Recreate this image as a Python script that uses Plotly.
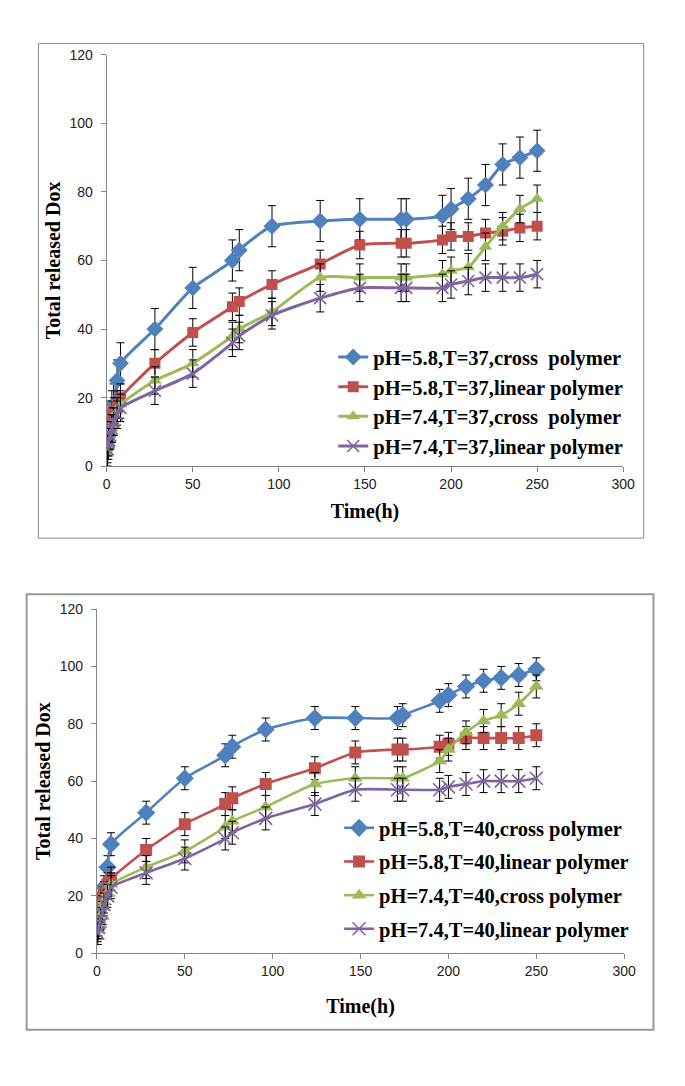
import plotly.graph_objects as go

# ---------------- data ----------------
time_h = [0.5, 1, 2, 3, 4, 6, 8, 28, 50, 73, 77, 96, 124, 147, 171, 174, 195, 200, 210, 220, 230, 240, 250]

# T = 37
cross_58_t37 = [6, 9, 13, 16, 18, 25, 30, 40, 52, 60, 63, 70, 71.5, 72, 72, 72, 73, 75, 78, 82, 88, 90, 92]
linear_58_t37 = [6, 9, 12, 15, 16, 18, 20, 30, 39, 46.5, 48, 53, 59, 64.5, 65, 65, 66, 67, 67, 68, 68.5, 69.5, 70]
cross_74_t37 = [4, 6, 9, 11, 13, 16, 18, 25, 30, 38, 40, 45, 55, 55, 55, 55, 56, 57, 58, 64, 70, 75, 78]
linear_74_t37 = [5, 7, 9, 11, 13, 15, 17, 22, 27, 36, 38, 44, 49, 52, 52, 52, 52, 53, 54, 55, 55, 55, 56]
err_t37 = [6, 4, 4, 4]

# T = 40
cross_58_t40 = [9, 12, 16, 20, 23, 30, 38, 49, 61, 69, 72, 78, 82, 82, 82, 83, 88, 90, 93, 95, 96, 97, 99]
linear_58_t40 = [10, 13, 16, 19, 21, 24, 26, 36, 45, 52, 54, 59, 64.5, 70, 71, 71, 72, 73, 75, 75, 75, 75, 76]
cross_74_t40 = [8, 10, 13, 16, 18, 21, 24, 30, 35.5, 44, 46, 51, 59, 61, 61, 61, 67, 71, 77, 81, 83, 87, 93]
linear_74_t40 = [7, 9, 12, 14, 17, 20, 23, 28, 33, 40, 42, 47, 52, 57, 57, 57, 57, 58, 59, 60, 60, 60, 61]
err_t40 = [4, 4, 4, 4]

names_t37 = ["pH=5.8,T=37,cross\u00a0 polymer", "pH=5.8,T=37,linear polymer",
             "pH=7.4,T=37,cross\u00a0 polymer", "pH=7.4,T=37,linear polymer"]
names_t40 = ["pH=5.8,T=40,cross polymer", "pH=5.8,T=40,linear polymer",
             "pH=7.4,T=40,cross polymer", "pH=7.4,T=40,linear polymer"]

x_ticks = [0, 50, 100, 150, 200, 250, 300]
y_ticks = [0, 20, 40, 60, 80, 100, 120]

# ---------------- style ----------------
colors = ["#4F81BD", "#C0504D", "#9BBB59", "#8064A2"]
symbols = ["diamond", "square", "triangle-up", "x-thin"]
sizes_top = [13, 11, 12, 12]
sizes_bot = [14, 12, 13, 13]

OFF = 8  # page body margin
W, H = 685 - OFF, 1086 - OFF
def px_x(p): return (p - OFF) / W
def px_y(p): return 1 - (p - OFF) / H

fig = go.Figure()

def add_series(series, names, errs, xa, ya, legend, msizes, lw):
    for i, (vals, nm) in enumerate(zip(series, names)):
        marker = dict(symbol=symbols[i], size=msizes[i], color=colors[i])
        if symbols[i] == "x-thin":
            marker["line"] = dict(color=colors[i], width=1.6)
        fig.add_trace(go.Scatter(
            x=time_h, y=vals, name=nm, mode="lines+markers",
            xaxis=xa, yaxis=ya, legend=legend, legendgroup=f"{legend}{i}",
            line=dict(color=colors[i], width=lw, shape="spline", smoothing=0.6),
            marker=marker,
            error_y=dict(type="constant", value=errs[i], color="black",
                         thickness=1, width=4),
        ))

add_series([cross_58_t37, linear_58_t37, cross_74_t37, linear_74_t37],
           names_t37, err_t37, "x", "y", "legend", sizes_top, 3)
add_series([cross_58_t40, linear_58_t40, cross_74_t40, linear_74_t40],
           names_t40, err_t40, "x2", "y2", "legend2", sizes_bot, 2.6)

tick_font = dict(family="Liberation Sans", size=14, color="#222222")
title_font = dict(family="Liberation Serif", size=20, color="black", weight="bold")
legend_font = dict(family="Liberation Serif", size=20.5, color="black", weight="bold")

axis_common = dict(showgrid=False, zeroline=False, showline=True, linecolor="#868686",
                   linewidth=1, ticks="outside", ticklen=5, tickcolor="#868686",
                   tickfont=tick_font)

fig.update_layout(
    width=W, height=H, margin=dict(l=0, r=0, t=0, b=0),
    paper_bgcolor="white", plot_bgcolor="white", showlegend=True,
    xaxis=dict(domain=[px_x(105), px_x(634)], range=[0, 300], tickvals=x_ticks,
               anchor="y", title=dict(text="Time(h)", font=title_font, standoff=12),
               **axis_common),
    yaxis=dict(domain=[px_y(465), px_y(47.3)], range=[0, 120], tickvals=y_ticks,
               anchor="x", ticklabelstandoff=5,
               title=dict(text="Total released Dox", font=title_font, standoff=3),
               **axis_common),
    xaxis2=dict(domain=[px_x(95), px_x(635)], range=[0, 300], tickvals=x_ticks,
                anchor="y2", title=dict(text="Time(h)", font=title_font, standoff=21),
                **axis_common),
    yaxis2=dict(domain=[px_y(959.3), px_y(610)], range=[0, 120], tickvals=y_ticks,
                anchor="x2", ticklabelstandoff=5,
                title=dict(text="Total released Dox", font=title_font, standoff=3),
                **axis_common),
    legend=dict(x=px_x(337), xanchor="left", y=px_y(399.5), yanchor="middle",
                font=legend_font, bgcolor="rgba(0,0,0,0)", traceorder="grouped",
                tracegroupgap=0),
    legend2=dict(x=px_x(343), xanchor="left", y=px_y(883.5), yanchor="middle",
                 font=legend_font, bgcolor="rgba(0,0,0,0)", traceorder="grouped",
                 tracegroupgap=4),
    shapes=[
        dict(type="rect", xref="paper", yref="paper", x0=px_x(35), x1=px_x(655),
             y0=px_y(538), y1=px_y(36), line=dict(color="#8a8a8a", width=1)),
        dict(type="rect", xref="paper", yref="paper", x0=px_x(23), x1=px_x(665),
             y0=px_y(1037), y1=px_y(595), line=dict(color="#9a9a9a", width=2)),
    ],
)

fig.write_html("out.html")
